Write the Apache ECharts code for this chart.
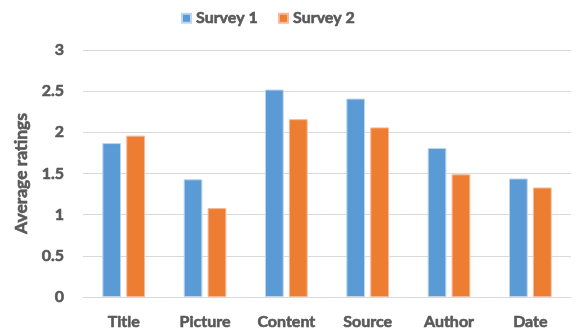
<!DOCTYPE html>
<html>
<head>
<meta charset="utf-8">
<script src="https://cdn.jsdelivr.net/npm/echarts@6/dist/echarts.min.js"></script>
<style>
  html, body { margin: 0; padding: 0; background: #fff; }
  #chart { width: 580px; height: 334px; }
</style>
</head>
<body>
<div id="chart"></div>
<script>
// Average ratings per news element, two survey rounds
const categories = ['Title', 'Picture', 'Content', 'Source', 'Author', 'Date'];
const survey1 = [1.87, 1.43, 2.52, 2.41, 1.81, 1.44];
const survey2 = [1.96, 1.08, 2.16, 2.06, 1.49, 1.33];
const seriesNames = ['Survey 1', 'Survey 2'];
const yTicks = { min: 0, max: 3, interval: 0.5 };

const FONT = 'Lato';
const TEXT = '#595959';
const label = (size) => ({
  fontFamily: FONT, fontSize: size, fontWeight: 'bold', color: TEXT,
  textBorderColor: TEXT, textBorderWidth: 0.6
});

const chart = echarts.init(document.getElementById('chart'), null, { renderer: 'canvas' });

chart.setOption({
  animation: false,
  textStyle: { fontFamily: FONT },
  legend: {
    top: 5,
    left: 176,
    itemWidth: 9,
    itemHeight: 9,
    itemGap: 20,
    icon: 'rect',
    textStyle: label(16),
    data: seriesNames
  },
  grid: { left: 83, right: 9, top: 50, bottom: 37 },
  xAxis: {
    type: 'category',
    data: categories,
    axisLine: { lineStyle: { color: '#d9d9d9', width: 1 } },
    axisTick: { show: false },
    axisLabel: Object.assign(label(16), { margin: 17 })
  },
  yAxis: {
    type: 'value',
    min: yTicks.min,
    max: yTicks.max,
    interval: yTicks.interval,
    name: 'Average ratings',
    nameLocation: 'middle',
    nameGap: 48,
    nameTextStyle: label(17.5),
    axisLine: { show: false },
    axisTick: { show: false },
    axisLabel: Object.assign(label(16), { margin: 19 }),
    splitLine: { lineStyle: { color: '#d9d9d9', width: 1 } }
  },
  series: [
    {
      name: seriesNames[0],
      type: 'bar',
      data: survey1,
      barWidth: '23%',
      barGap: '28%',
      itemStyle: { color: '#5b9bd5', borderColor: '#bcd6ef', borderWidth: 1 }
    },
    {
      name: seriesNames[1],
      type: 'bar',
      data: survey2,
      barWidth: '23%',
      itemStyle: { color: '#ed7d31', borderColor: '#f6b996', borderWidth: 1 }
    }
  ]
});
</script>
</body>
</html>
